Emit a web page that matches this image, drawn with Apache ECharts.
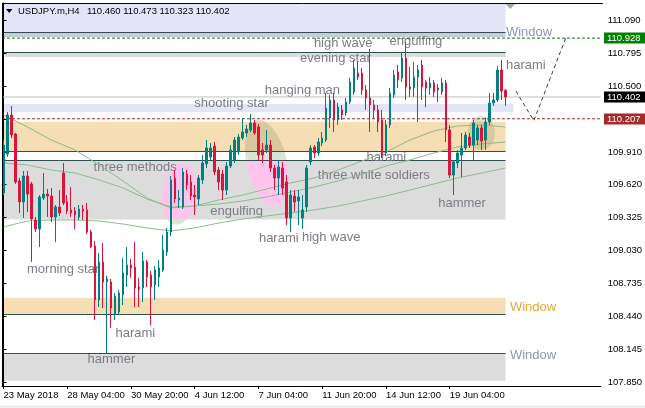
<!DOCTYPE html>
<html>
<head>
<meta charset="utf-8">
<script src="https://cdn.jsdelivr.net/npm/echarts@6/dist/echarts.min.js"></script>
<style>
  html, body { margin: 0; padding: 0; background: #ffffff; }
  #chart { width: 645px; height: 408px; }
</style>
</head>
<body>
<div id="chart"></div>
<script>
// ---- USDJPY.m H4 price data (bar index 0 = 23 May 2018 12:00) ----
const symbolName = 'USDJPY.m,H4';

const opens = [
  109.543, 109.892, 110.241, 110.071, 109.651, 109.463, 109.695, 109.624, 109.302, 109.222,
  109.499, 109.534, 109.516, 109.329, 109.418, 109.722, 109.463, 109.392, 109.383, 109.329,
  109.400, 109.392, 109.195, 109.069, 108.587, 108.927, 108.748, 108.748, 108.462, 108.480,
  108.632, 108.810, 108.900, 108.882, 108.703, 108.694, 108.927, 108.810, 108.721, 108.793,
  108.855, 109.016, 109.195, 109.677, 109.481, 109.418, 109.713, 109.642, 109.525, 109.490,
  109.660, 109.803, 109.865, 109.963, 109.749, 109.713, 109.570, 109.785, 109.839, 109.910,
  110.035, 110.080, 110.107, 110.169, 110.134, 109.928, 109.928, 109.972, 109.767, 109.677,
  109.767, 109.642, 109.320, 109.516, 109.472, 109.320, 109.418, 109.821, 109.955, 109.901,
  109.990, 110.017, 110.214, 110.375, 110.196, 110.286, 110.259, 110.357, 110.446, 110.616,
  110.616, 110.464, 110.393, 110.330, 110.286, 110.196, 109.901, 110.152, 110.420, 110.625,
  110.572, 110.750, 110.491, 110.482, 110.581, 110.688, 110.536, 110.482, 110.527, 110.482,
  110.446, 110.527, 110.107, 109.704, 109.812, 109.883, 109.946, 110.044, 109.972, 110.017,
  110.125, 110.017, 110.178, 110.348, 110.375, 110.643, 110.460
];
const closes = [
  109.972, 110.241, 110.062, 109.642, 109.463, 109.695, 109.534, 109.311, 109.222, 109.508,
  109.534, 109.516, 109.329, 109.418, 109.365, 109.454, 109.383, 109.365, 109.347, 109.400,
  109.383, 109.195, 109.060, 108.587, 108.927, 108.748, 108.775, 108.515, 108.623, 108.650,
  108.828, 108.900, 108.873, 108.694, 108.685, 108.936, 108.793, 108.703, 108.855, 108.873,
  109.034, 109.195, 109.660, 109.490, 109.499, 109.731, 109.615, 109.516, 109.508, 109.677,
  109.812, 109.946, 109.946, 109.731, 109.642, 109.570, 109.785, 109.928, 110.017, 110.044,
  110.089, 110.116, 110.169, 110.080, 109.883, 109.883, 109.972, 109.767, 109.677, 109.776,
  109.588, 109.320, 109.525, 109.463, 109.508, 109.392, 109.767, 109.946, 109.901, 109.999,
  110.035, 110.303, 110.375, 110.196, 110.312, 110.241, 110.357, 110.536, 110.661, 110.581,
  110.464, 110.393, 110.330, 110.286, 110.178, 109.883, 110.152, 110.438, 110.598, 110.554,
  110.750, 110.491, 110.473, 110.581, 110.643, 110.491, 110.482, 110.527, 110.446, 110.464,
  110.527, 110.107, 109.704, 109.821, 109.901, 109.946, 110.062, 109.972, 110.169, 110.125,
  110.008, 110.178, 110.348, 110.375, 110.643, 110.455, 110.402
];
const highs = [
  110.017, 110.268, 110.321, 110.080, 109.677, 109.740, 109.740, 109.642, 109.329, 109.525,
  109.722, 109.579, 109.588, 109.436, 109.570, 109.812, 109.525, 109.597, 109.418, 109.436,
  109.436, 109.454, 109.213, 109.114, 109.007, 109.096, 108.802, 108.775, 108.650, 108.676,
  108.962, 109.060, 108.954, 109.105, 108.784, 109.016, 108.945, 108.846, 108.891, 108.945,
  109.168, 109.231, 109.695, 109.749, 109.570, 109.767, 109.749, 109.704, 109.615, 109.704,
  109.883, 110.017, 109.990, 109.999, 109.776, 109.749, 109.821, 109.972, 110.044, 110.071,
  110.214, 110.152, 110.250, 110.196, 110.160, 109.990, 110.107, 110.017, 109.794, 109.839,
  109.821, 109.704, 109.570, 109.570, 109.570, 109.525, 109.794, 109.972, 109.972, 110.035,
  110.089, 110.438, 110.420, 110.438, 110.348, 110.330, 110.393, 110.572, 110.733, 110.715,
  110.661, 110.509, 110.831, 110.375, 110.330, 110.286, 110.196, 110.482, 110.643, 110.688,
  110.795, 110.893, 110.670, 110.715, 110.688, 110.733, 110.554, 110.581, 110.554, 110.518,
  110.572, 110.554, 110.152, 109.839, 109.928, 110.080, 110.089, 110.080, 110.196, 110.152,
  110.152, 110.214, 110.438, 110.438, 110.679, 110.733, 110.473
];
const lows = [
  109.525, 109.865, 110.035, 109.624, 109.365, 109.320, 109.374, 108.927, 109.195, 109.060,
  109.481, 109.329, 109.284, 109.105, 109.338, 109.436, 109.356, 109.329, 109.222, 109.302,
  109.302, 109.177, 109.051, 108.408, 108.524, 108.515, 108.104, 108.337, 108.408, 108.453,
  108.542, 108.703, 108.784, 108.524, 108.524, 108.569, 108.703, 108.364, 108.587, 108.703,
  108.837, 108.980, 109.159, 109.454, 109.410, 109.400, 109.570, 109.481, 109.347, 109.436,
  109.624, 109.767, 109.839, 109.704, 109.570, 109.481, 109.525, 109.767, 109.812, 109.883,
  110.017, 110.044, 110.089, 110.062, 109.839, 109.812, 109.901, 109.731, 109.570, 109.525,
  109.525, 109.257, 109.195, 109.374, 109.257, 109.222, 109.374, 109.794, 109.856, 109.874,
  109.963, 109.999, 110.125, 110.089, 110.152, 110.196, 110.232, 110.339, 110.420, 110.554,
  110.420, 110.286, 110.089, 110.214, 110.089, 109.856, 109.874, 110.125, 110.393, 110.482,
  110.536, 110.375, 110.402, 110.402, 110.178, 110.375, 110.312, 110.420, 110.402, 110.357,
  110.420, 109.999, 109.677, 109.525, 109.767, 109.686, 109.928, 109.946, 109.839, 109.972,
  109.928, 109.928, 110.152, 110.321, 110.357, 110.375, 110.323
];

// moving averages, read every 6 bars
const maBars = [0, 6, 12, 18, 24, 30, 36, 42, 48, 54, 60, 66, 72, 78, 84, 90, 96, 102, 108, 114, 120, 126];
const maFast = [110.241, 110.134, 110.017, 109.928, 109.794, 109.651, 109.499, 109.410, 109.427, 109.481, 109.525,
                109.579, 109.633, 109.678, 109.749, 109.830, 109.910, 110.017, 110.098, 110.143, 110.152, 110.134];
const maMid  = [109.812, 109.794, 109.749, 109.722, 109.660, 109.588, 109.490, 109.418, 109.427, 109.445, 109.472,
                109.508, 109.552, 109.597, 109.651, 109.713, 109.785, 109.839, 109.901, 109.955, 109.982, 109.999];
const maSlow = [109.240, 109.293, 109.302, 109.302, 109.293, 109.266, 109.231, 109.204, 109.231, 109.275, 109.311,
                109.338, 109.365, 109.392, 109.427, 109.472, 109.517, 109.570, 109.624, 109.678, 109.722, 109.767];

// time axis
const timeTickBars = [0, 16, 32, 48, 64, 80, 96, 112];
const timeTickLabels = ['23 May 2018', '28 May 04:00', '30 May 20:00', '4 Jun 12:00', '7 Jun 04:00',
                        '11 Jun 20:00', '14 Jun 12:00', '19 Jun 04:00'];
// price axis
const priceTicks = [111.090, 110.795, 110.500, 110.205, 109.910, 109.620, 109.325, 109.030,
                    108.735, 108.440, 108.145, 107.850];

// horizontal levels
const targetLevel = 110.928;
const supportLevel = 110.207;
const bidPrice = closes[closes.length - 1];

// expected path after the last bar: [bar, price]
const projectionPath = [[128.6, 110.455], [133.1, 110.190], [141.1, 110.928]];

// gap ("Window") zones: [upper price, lower price, kind, last bar]
const zoneBands = [
  [111.242, 110.975, 'lavender', 126],
  [110.975, 110.938, 'edge', 126],
  [110.800, 110.759, 'gray', 126],
  [110.339, 110.268, 'lavender', 128],
  [110.181, 109.913, 'tan', 126],
  [109.832, 109.307, 'gray', 126],
  [108.608, 108.453, 'tan', 126],
  [108.110, 107.866, 'gray', 126]
];
const zoneEdgeLines = [110.975, 110.800, 109.913, 109.832, 108.453, 108.110];

// candlestick pattern notes: [text, bar, price]
const patternNotes = [
  ['high wave', 77.9, 110.885],
  ['engulfing', 96.9, 110.902],
  ['evening star', 74.4, 110.750],
  ['hanging man', 65.6, 110.464],
  ['shooting star', 47.9, 110.348],
  ['harami', 126.1, 110.688],
  ['three methods', 22.6, 109.776],
  ['engulfing', 51.9, 109.383],
  ['harami', 64.1, 109.141],
  ['high wave', 74.9, 109.150],
  ['harami', 91.1, 109.865],
  ['three white soldiers', 78.9, 109.704],
  ['hammer', 109.1, 109.454],
  ['morning star', 5.9, 108.864],
  ['harami', 28.1, 108.292],
  ['hammer', 21.1, 108.059]
];
const windowNotes = [
  ['Window', 126.1, 110.983, 'lavender'],
  ['Window', 127.1, 108.524, 'tan'],
  ['Window', 127.1, 108.095, 'gray']
];

// highlighted pattern areas: [center bar, center price, half width (bars), half height (price), tilt deg]
const patternAreas = [
  [44.1, 109.534, 4.25, 0.277, 8],
  [66.1, 109.812, 5.0, 0.393, -13],
  [119.9, 110.080, 3.4, 0.152, 0]
];

// ---- styling ----
const FONT = '"Liberation Sans", Arial, sans-serif';
const BULL = '#008080', BEAR = '#DC143C';
const X_MIN = -0.375, X_MAX = 149.875;
const Y_MIN = 107.818, Y_MAX = 111.242;
const zoneFill = { lavender: '#E3E4F8', edge: '#C9CBDC', gray: '#DCDCDC', tan: '#F5DEB3' };
const areaTint = { white: '#D6E6D3', tan: '#D9C89C', gray: '#FFC4EE', lavender: '#D6E6D3', edge: '#D6E6D3' };
const windowColor = { lavender: '#8C96B9', tan: '#E8A53A', gray: '#8C96B9' };

const candleData = opens.map((o, i) => [i, o, closes[i], lows[i], highs[i]]);
const pairs = (xs, ys) => xs.map((x, i) => [x, ys[i]]);
const levelLine = (v, color, type) => ({
  type: 'line', data: [[X_MIN, v], [X_MAX, v]], symbol: 'none', silent: true, z: 1,
  lineStyle: { color: color, width: 1, type: type }, animation: false
});
const maLine = (vals) => ({
  type: 'line', data: pairs(maBars, vals), symbol: 'none', silent: true, z: 1,
  lineStyle: { color: '#8FBC8F', width: 1 }, animation: false
});

const chart = echarts.init(document.getElementById('chart'), null, { renderer: 'canvas' });

chart.setOption({
  animation: false,
  backgroundColor: '#ffffff',
  grid: { left: 2, top: 3, width: 601, height: 383, show: false },
  xAxis: {
    type: 'value', min: X_MIN, max: X_MAX, position: 'bottom',
    axisLine: { show: true, lineStyle: { color: '#000', width: 1 } },
    axisTick: { show: true, length: 3, customValues: timeTickBars, lineStyle: { color: '#000' } },
    axisLabel: {
      customValues: timeTickBars, align: 'left', margin: 4,
      color: '#000', fontSize: 9.5, fontFamily: FONT,
      formatter: v => timeTickLabels[timeTickBars.indexOf(Math.round(v))] || ''
    },
    splitLine: { show: false }
  },
  yAxis: {
    type: 'value', min: Y_MIN, max: Y_MAX, position: 'right', scale: true,
    axisLine: { show: true, lineStyle: { color: '#000', width: 1 } },
    axisTick: { show: true, length: 3, customValues: priceTicks, lineStyle: { color: '#000' } },
    axisLabel: {
      customValues: priceTicks, margin: 7, color: '#000', fontSize: 9.5, fontFamily: FONT,
      formatter: v => v.toFixed(3)
    },
    splitLine: { show: false }
  },
  series: [
    maLine(maSlow),
    maLine(maMid),
    maLine(maFast),
    levelLine(bidPrice, '#C0C0C0', 'solid'),
    levelLine(targetLevel, '#008000', [3, 2]),
    levelLine(supportLevel, '#A52A2A', [3, 2]),
    {
      type: 'line', data: projectionPath, symbol: 'none', silent: true, z: 1,
      lineStyle: { color: '#404040', width: 1, type: [4, 3] }
    },
    {
      type: 'candlestick', data: candleData, encode: { x: 0, y: [1, 2, 3, 4] },
      barWidth: 2, z: 3, silent: true,
      itemStyle: { color: BULL, color0: BEAR, borderColor: BULL, borderColor0: BEAR, borderWidth: 1 }
    }
  ]
});

// ---- annotations drawn on top of the scales ----
const P = (b, v) => chart.convertToPixel({ xAxisIndex: 0, yAxisIndex: 0 }, [b, v]);
const crisp = v => Math.round(v - 0.5) + 0.5;
const PLOT_L = 2, PLOT_R = 603, PLOT_T = 3, PLOT_B = 386;
const g = [];

// zones
zoneBands.forEach(([hi, lo, kind, lastBar]) => {
  const y0 = P(0, hi)[1], y1 = P(0, lo)[1], x1 = P(lastBar, hi)[0];
  g.push({ type: 'rect', silent: true, z: 0, shape: { x: PLOT_L, y: y0, width: x1 - PLOT_L, height: y1 - y0 },
           style: { fill: zoneFill[kind] } });
});

// pattern areas, tinted by the zone beneath them
function stripPoly(e, y0, y1) {
  const th = e.th * Math.PI / 180, c = Math.cos(th), s = Math.sin(th);
  const ia = 1 / (e.a * e.a), ib = 1 / (e.b * e.b);
  const A = c * c * ia + s * s * ib, Bk = 2 * s * c * (ia - ib), Ck = s * s * ia + c * c * ib;
  const L = [], R = [];
  const n = Math.max(2, Math.ceil((y1 - y0) / 0.5));
  for (let i = 0; i <= n; i++) {
    const y = y0 + (y1 - y0) * i / n, dy = y - e.cy;
    const B = Bk * dy, C = Ck * dy * dy - 1, D = B * B - 4 * A * C;
    if (D < 0) continue;
    const r = Math.sqrt(D);
    L.push([e.cx + (-B - r) / (2 * A), y]);
    R.push([e.cx + (-B + r) / (2 * A), y]);
  }
  return L.concat(R.reverse());
}
patternAreas.forEach(([bar, price, hb, hp, tilt]) => {
  const [cx, cy] = P(bar, price);
  const e = { cx, cy, a: P(bar + hb, price)[0] - cx, b: P(bar, price - hp)[1] - cy, th: tilt };
  const ext = e.a + e.b;
  const full = stripPoly(e, cy - ext, cy + ext);
  if (full.length > 2) g.push({ type: 'polygon', silent: true, z: 0, shape: { points: full }, style: { fill: areaTint.white } });
  zoneBands.forEach(([hi, lo, kind, lastBar]) => {
    const y0 = P(0, hi)[1], y1 = P(0, lo)[1];
    if (y1 < cy - ext || y0 > cy + ext) return;
    const pts = stripPoly(e, Math.max(y0, cy - ext), Math.min(y1, cy + ext));
    if (pts.length > 2) g.push({ type: 'polygon', silent: true, z: 0, shape: { points: pts }, style: { fill: areaTint[kind] } });
  });
});

// zone edge lines
zoneEdgeLines.forEach(v => {
  const y = crisp(P(0, v)[1]), x1 = P(126, v)[0];
  g.push({ type: 'line', silent: true, z: 0, shape: { x1: PLOT_L, y1: y, x2: x1, y2: y },
           style: { stroke: '#2F4F4F', lineWidth: 1 } });
});

// pattern labels
patternNotes.forEach(([text, bar, price]) => {
  const [x, y] = P(bar, price);
  g.push({ type: 'text', silent: true, z: 1, style: { text, x, y, fill: '#7C7C87', fontSize: 13, fontFamily: FONT,
           align: 'left', verticalAlign: 'middle' } });
});
windowNotes.forEach(([text, bar, price, kind]) => {
  const [x, y] = P(bar, price);
  g.push({ type: 'text', silent: true, z: 1, style: { text, x, y, fill: windowColor[kind], fontSize: 13, fontFamily: FONT,
           align: 'left', verticalAlign: 'middle' } });
});

// chart frame (left and top)
g.push({ type: 'line', silent: true, z: 5, shape: { x1: 2.5, y1: PLOT_T, x2: 2.5, y2: PLOT_B }, style: { stroke: '#000', lineWidth: 1 } });
g.push({ type: 'line', silent: true, z: 5, shape: { x1: PLOT_L, y1: 3.5, x2: PLOT_R, y2: 3.5 }, style: { stroke: '#000', lineWidth: 1 } });

// chart shift marker
const shiftX = P(127.2, Y_MAX)[0];
g.push({ type: 'polygon', silent: true, z: 5, shape: { points: [[shiftX - 5, 4], [shiftX + 5, 4], [shiftX, 9]] }, style: { fill: '#A9A9A9' } });

// price tags on the price axis
[[targetLevel, '#008000'], [bidPrice, '#000000'], [supportLevel, '#A52A2A']].forEach(([v, color]) => {
  const y = P(0, v)[1];
  g.push({ type: 'rect', silent: true, z: 6, shape: { x: PLOT_R + 1, y: Math.round(y) - 5.5, width: 42, height: 11 }, style: { fill: color } });
  g.push({ type: 'text', silent: true, z: 7, style: { text: v.toFixed(3), x: PLOT_R + 4, y: y + 0.5, fill: '#ffffff',
           fontSize: 9.5, fontFamily: FONT, align: 'left', verticalAlign: 'middle' } });
});

// title line
const last = opens.length - 1;
g.push({ type: 'polygon', silent: true, z: 6, shape: { points: [[6, 9], [12.5, 9], [9.25, 13]] }, style: { fill: '#000' } });
g.push({ type: 'text', silent: true, z: 6, style: { text: symbolName, x: 18, y: 11, fill: '#000', fontSize: 9.5, fontFamily: FONT,
         align: 'left', verticalAlign: 'middle' } });
g.push({ type: 'text', silent: true, z: 6, style: {
  text: [opens[last], highs[last], lows[last], closes[last]].map(v => v.toFixed(3)).join(' '),
  x: 87, y: 11, fill: '#000', fontSize: 9.5, fontFamily: FONT, align: 'left', verticalAlign: 'middle' } });

// status strip along the bottom edge
g.push({ type: 'rect', silent: true, z: 0, shape: { x: 0, y: 405, width: 645, height: 3 }, style: { fill: '#F0F0F0' } });

chart.setOption({ graphic: { elements: g } });
</script>
</body>
</html>
